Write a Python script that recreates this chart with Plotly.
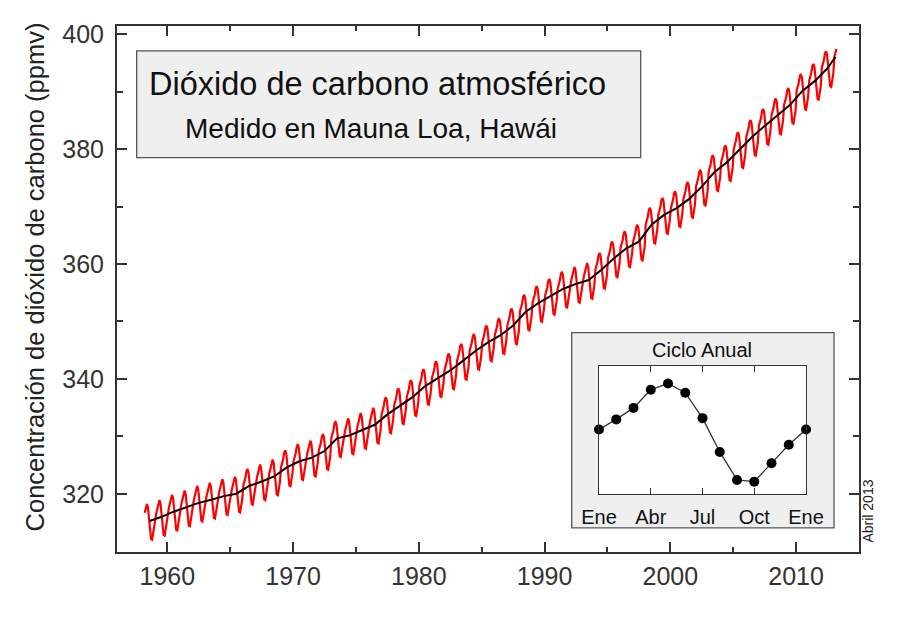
import plotly.graph_objects as go

# ---------------- data ----------------
years = list(range(1958, 2014))
annual_mean = [
    315.30, 315.98, 316.91, 317.64, 318.45, 318.99, 319.62, 320.04, 321.38, 322.16,
    323.04, 324.62, 325.68, 326.32, 327.46, 329.68, 330.19, 331.12, 332.03, 333.84,
    335.41, 336.84, 338.76, 340.12, 341.48, 343.15, 344.87, 346.35, 347.61, 349.31,
    351.69, 353.20, 354.45, 355.70, 356.54, 357.21, 358.96, 360.97, 362.74, 363.88,
    366.84, 368.54, 369.71, 371.32, 373.45, 375.98, 377.70, 379.98, 382.09, 384.02,
    385.83, 387.64, 390.10, 391.85, 394.06, 396.00,
]
# mean seasonal anomaly (ppmv) for Jan..Dec
seasonal_cycle = [0.04, 0.68, 1.41, 2.56, 2.95, 2.37, 0.76, -1.38, -3.15, -3.26, -2.09, -0.92]
first_month = (1958, 3)
last_month = (2013, 3)

inset_months = list(range(13))
inset_tickvals = [0, 3, 6, 9, 12]
inset_ticktext = ["Ene", "Abr", "Jul", "Oct", "Ene"]
y_tickvals = [320, 340, 360, 380, 400]
x_tickvals = [1960, 1970, 1980, 1990, 2000, 2010]

# -------------- series assembly --------------
red_x, red_y, trend_x, trend_y = [], [], [], []
for yr, mean in zip(years, annual_mean):
    months = [m for m in range(1, 13) if first_month <= (yr, m) <= last_month]
    for m in months:
        red_x.append(yr + (m - 0.5) / 12)
        red_y.append(mean + seasonal_cycle[m - 1])
    trend_x.append(yr + (sum(months) / len(months) - 0.5) / 12)
    trend_y.append(mean)

inset_y = seasonal_cycle + [seasonal_cycle[0]]

FONT = "Liberation Sans, Arial, sans-serif"
AX = "#333333"

fig = go.Figure()
fig.add_trace(go.Scatter(x=red_x, y=red_y, mode="lines",
                         line=dict(color="#ff0000", width=2.2), hoverinfo="skip"))
fig.add_trace(go.Scatter(x=trend_x, y=trend_y, mode="lines",
                         line=dict(color="#000000", width=2), hoverinfo="skip"))
fig.add_trace(go.Scatter(x=inset_months, y=inset_y, mode="lines+markers",
                         xaxis="x2", yaxis="y2", cliponaxis=False,
                         line=dict(color="#333333", width=1.3),
                         marker=dict(color="#000000", size=10), hoverinfo="skip"))

fig.update_layout(
    width=892, height=612,
    margin=dict(l=109, r=41, t=13, b=68),
    paper_bgcolor="white", plot_bgcolor="rgba(0,0,0,0)",
    showlegend=False,
    font=dict(family=FONT, color="#222222"),
    xaxis=dict(
        range=[1956, 2015], tickvals=x_tickvals, showgrid=False, zeroline=False,
        showline=True, linecolor=AX, linewidth=2, mirror="allticks",
        ticks="inside", ticklen=10, tickwidth=1.5, tickcolor=AX,
        minor=dict(dtick=5, tick0=1960, ticks="inside", ticklen=5, tickwidth=1.5, tickcolor=AX),
        tickfont=dict(size=25, color="#333333"), ticklabelstandoff=1,
    ),
    yaxis=dict(
        range=[309.9, 401.4], tickvals=y_tickvals, showgrid=False, zeroline=False,
        showline=True, linecolor=AX, linewidth=2, mirror="allticks",
        ticks="inside", ticklen=10, tickwidth=1.5, tickcolor=AX,
        minor=dict(dtick=10, tick0=320, ticks="inside", ticklen=6, tickwidth=1.5, tickcolor=AX),
        tickfont=dict(size=25, color="#333333"), ticklabelstandoff=6,
    ),
    xaxis2=dict(
        domain=[0.6496, 0.9286], anchor="y2", range=[0, 12],
        tickvals=inset_tickvals, ticktext=inset_ticktext,
        showgrid=False, zeroline=False, showline=True, linecolor=AX, linewidth=1.3,
        mirror="allticks", ticks="inside", ticklen=6, tickwidth=1.3, tickcolor=AX,
        tickfont=dict(size=20, color="#111111"), ticklabelstandoff=4,
    ),
    yaxis2=dict(
        domain=[0.1094, 0.3536], anchor="x2", range=[-4.07, 4.06],
        showgrid=False, zeroline=False, showline=True, linecolor=AX, linewidth=1.3,
        mirror=True, ticks="", showticklabels=False,
    ),
)

shapes = [
    # title box
    dict(type="rect", xref="paper", yref="paper", x0=0.0265, x1=0.7058, y0=0.7498, y1=0.9528,
         fillcolor="#efefef", line=dict(color="#555555", width=1.3), layer="below"),
    # inset outer box
    dict(type="rect", xref="paper", yref="paper", x0=0.6128, x1=0.9663, y0=0.046, y1=0.417,
         fillcolor="#efefef", line=dict(color="#555555", width=1.3), layer="below"),
    # inset plot area
    dict(type="rect", xref="x2 domain", yref="y2 domain", x0=0, x1=1, y0=0, y1=1,
         fillcolor="white", line=dict(width=0), layer="below"),
]
fig.update_layout(shapes=shapes)

annotations = [
    dict(text="Dióxido de carbono atmosférico", x=0.3517, y=0.890, xref="paper", yref="paper",
         showarrow=False, xanchor="center", yanchor="middle", font=dict(size=32.5, color="#111111")),
    dict(text="Medido en Mauna Loa, Hawái", x=0.3423, y=0.806, xref="paper", yref="paper",
         showarrow=False, xanchor="center", yanchor="middle", font=dict(size=28, color="#111111")),
    dict(text="Ciclo Anual", x=0.788, y=0.3847, xref="paper", yref="paper",
         showarrow=False, xanchor="center", yanchor="middle", font=dict(size=20, color="#111111")),
    dict(text="Concentración de dióxido de carbono (ppmv)", x=-0.1105, y=0.522,
         xref="paper", yref="paper", textangle=-90, showarrow=False,
         xanchor="center", yanchor="middle", font=dict(size=25.5, color="#222222")),
    dict(text="Abril 2013", x=1.0121, y=0.0787, xref="paper", yref="paper", textangle=-90,
         showarrow=False, xanchor="center", yanchor="middle", font=dict(size=14, color="#222222")),
]
fig.update_layout(annotations=annotations)

fig.write_html("out.html")
